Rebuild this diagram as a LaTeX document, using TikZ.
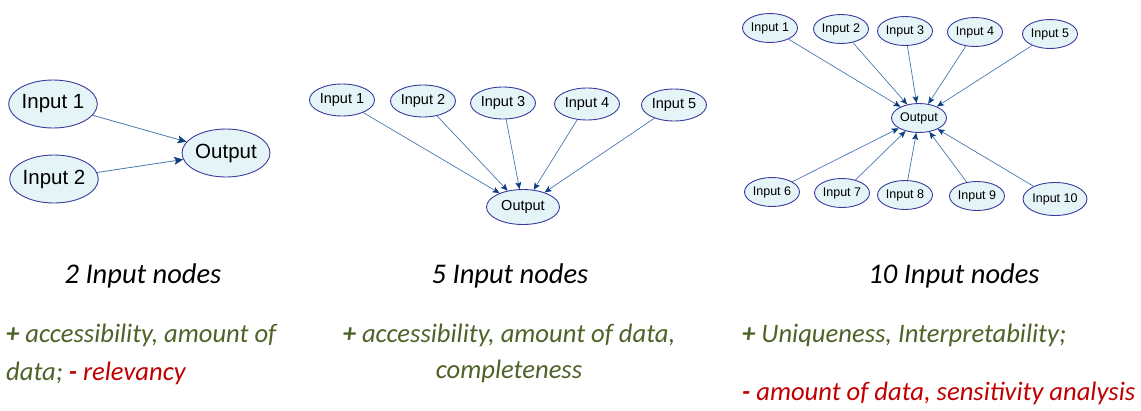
\documentclass[tikz,border=0pt]{standalone}
\usepackage{fontspec}
\setmainfont{Carlito}
\newfontfamily\nodefont{Liberation Sans}
\usetikzlibrary{shapes.geometric,arrows.meta}
\definecolor{nodefill}{HTML}{E4F4F7}
\definecolor{nodeline}{HTML}{3B3B9E}
\definecolor{edgeline}{HTML}{4A78AE}
\definecolor{tipblue}{HTML}{0D3F7F}
\definecolor{plusgreen}{HTML}{4F6228}
\definecolor{minusred}{HTML}{C00000}

\tikzstyle{netnode} = [ellipse,draw=nodeline,fill=nodefill,line width=0.9pt,inner sep=0pt]
\tikzstyle{bignode} = [netnode,minimum width=88pt,minimum height=48pt,font=\nodefont\fontsize{20.5}{24}\selectfont]
\tikzstyle{midnode} = [netnode,minimum width=65pt,minimum height=32pt,font=\nodefont\fontsize{14.5}{17}\selectfont]
\tikzstyle{smallnode} = [netnode,minimum width=55pt,minimum height=29pt,font=\nodefont\fontsize{12.5}{15}\selectfont]
\tikzstyle{caption} = [inner sep=0pt,font=\itshape\fontsize{26.6}{30}\selectfont]
\tikzstyle{heading} = [inner sep=0pt,font=\itshape\fontsize{28.5}{32}\selectfont]

\begin{document}
\begin{tikzpicture}[x=1pt,y=-1pt]
\tikzstyle{link} = [draw=edgeline,line width=0.8pt,-{Stealth[length=9pt,width=8pt,inset=2pt,color=tipblue]}]
\tikzstyle{thinlink} = [draw=edgeline,line width=0.7pt,-{Stealth[length=7pt,width=6pt,inset=1.5pt,color=tipblue]}]
\useasboundingbox (0,0) rectangle (1141,410);
% 2 inputs
\node[bignode] at (53,104) (twoin1) {Input 1};
\node[bignode] at (54,179) (twoin2) {Input 2};
\node[bignode] at (226,153) (twoout) {Output};
\foreach \i in {1,2}
    \draw[link] (twoin\i) -- (twoout);
% 5 inputs
\node[midnode] at (342,100) (fivein1) {Input 1};
\node[midnode] at (423,101) (fivein2) {Input 2};
\node[midnode] at (503,103) (fivein3) {Input 3};
\node[midnode] at (587,104) (fivein4) {Input 4};
\node[midnode] at (674,105) (fivein5) {Input 5};
\node[midnode,minimum width=73pt,minimum height=35pt] at (523,207) (fiveout) {Output};
\foreach \i in {1,...,5}
    \draw[thinlink] (fivein\i) -- (fiveout);
% 10 inputs
\node[smallnode] at (770,28) (tenin1) {Input 1};
\node[smallnode] at (841,29) (tenin2) {Input 2};
\node[smallnode] at (905,31) (tenin3) {Input 3};
\node[smallnode] at (975,32) (tenin4) {Input 4};
\node[smallnode] at (1050,34) (tenin5) {Input 5};
\node[smallnode] at (772,192) (tenin6) {Input 6};
\node[smallnode] at (842,193) (tenin7) {Input 7};
\node[smallnode] at (905,195) (tenin8) {Input 8};
\node[smallnode] at (977,196) (tenin9) {Input 9};
\node[smallnode,minimum width=60pt,minimum height=33pt] at (1055,199) (tenin10) {Input 10};
\node[smallnode] at (919,118) (tenout) {Output};
\foreach \i in {1,...,10}
    \draw[thinlink] (tenin\i) -- (tenout);
% captions
\node[heading,anchor=base] at (143,283) (title2) {2 Input nodes};
\node[heading,anchor=base] at (510,283) (title5) {5 Input nodes};
\node[heading,anchor=base] at (954,283) (title10) {10 Input nodes};
\node[caption,anchor=base west,text=plusgreen] at (6,342) (pro2) {\textbf{+} accessibility, amount of};
\node[caption,anchor=base west] at (6,380) (con2) {\textcolor{plusgreen}{data;} \textcolor{minusred}{\textbf{-} relevancy}};
\node[caption,anchor=base,text=plusgreen] at (509,342) (pro5) {\textbf{+} accessibility, amount of data,};
\node[caption,anchor=base,text=plusgreen] at (509,378) (pro5b) {completeness};
\node[caption,anchor=base west,text=plusgreen] at (742,342) (pro10) {\textbf{+} Uniqueness, Interpretability;};
\node[caption,anchor=base west,text=minusred] at (742,400) (con10) {\textbf{-} amount of data, sensitivity analysis};
\end{tikzpicture}
\end{document}
